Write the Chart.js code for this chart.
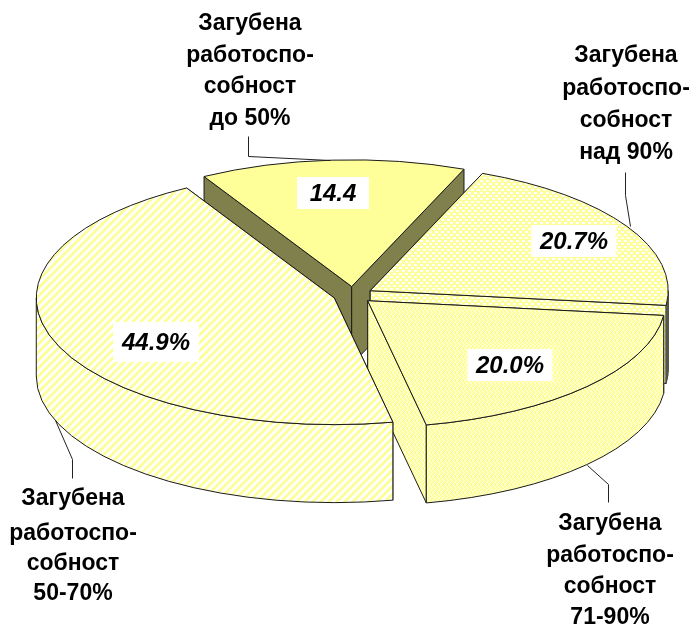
<!DOCTYPE html>
<html><head><meta charset="utf-8">
<style>html,body{margin:0;padding:0;background:#fff}#w{width:693px;height:627px}</style>
<script src="https://cdn.jsdelivr.net/npm/chart.js@4/dist/chart.umd.js"></script>
</head><body><div id="w"><canvas id="c" width="693" height="627"></canvas></div>
<script>
const categories = ['Загубена работоспо-собност до 50%','Загубена работоспо-собност над 90%','Загубена работоспо-собност 71-90%','Загубена работоспо-собност 50-70%'];
const values = [14.4, 20.7, 20.0, 44.9];
const valueLabels = ['14.4', '20.7%', '20.0%', '44.9%'];
const calloutLines = [
  ['Загубена','работоспо-','собност','до 50%'],
  ['Загубена','работоспо-','собност','над 90%'],
  ['Загубена','работоспо-','собност','71-90%'],
  ['Загубена','работоспо-','собност','50-70%']
];

const TILT = 0.425, DEPTH = 78, YEL = '#FFFF99', OLIVE = '#80804D', LINE = '#1a1a1a';
const FONT = '"Liberation Sans", Arial, sans-serif';

function pattern(size, isWhite) {
  const cv = document.createElement('canvas');
  cv.width = cv.height = size;
  const g = cv.getContext('2d');
  g.fillStyle = YEL; g.fillRect(0, 0, size, size);
  g.fillStyle = '#fff';
  for (let y = 0; y < size; y++) for (let x = 0; x < size; x++) if (isWhite(x, y)) g.fillRect(x, y, 1, 1);
  return g.createPattern(cv, 'repeat');
}
const hatch = pattern(8, (x, y) => (x + y) % 8 < 4);
const dots = pattern(6, (x, y) => (x % 6 < 3 && y % 6 < 2) || ((x + 3) % 6 < 3 && (y + 3) % 6 < 2));
const fine = pattern(8, (x, y) => ((y % 8 < 4 ? x + y : x - y + 16) % 4) === 0);

class Arc3DElement extends Chart.ArcElement {
  static id = 'arc3d';
  draw(ctx) {
    const { x, y, startAngle: a0, endAngle: a1, outerRadius: r, options: o } = this;
    const mid = (a0 + a1) / 2, e = o.offset || 0;
    const cx = x + Math.cos(mid) * e, cy = y + Math.sin(mid) * e * TILT;
    const px = a => cx + Math.cos(a) * r, py = a => cy + Math.sin(a) * r * TILT;
    const wall = o.borderColor === OLIVE ? OLIVE : o.backgroundColor;
    ctx.save();
    ctx.lineWidth = 1; ctx.lineJoin = 'round'; ctx.strokeStyle = LINE;
    const shape = (fill, build) => { ctx.beginPath(); build(); ctx.closePath(); ctx.fillStyle = fill; ctx.fill(); ctx.stroke(); };
    for (const a of [a0, a1]) shape(wall, () => {
      ctx.moveTo(cx, cy); ctx.lineTo(px(a), py(a)); ctx.lineTo(px(a), py(a) + DEPTH); ctx.lineTo(cx, cy + DEPTH);
    });
    const TAU = Math.PI * 2;
    let w0 = Infinity, w1 = -Infinity;
    for (let k = -1; k <= 1; k++) {
      const lo = Math.max(a0, k * TAU), hi = Math.min(a1, k * TAU + Math.PI);
      if (hi > lo) { w0 = Math.min(w0, lo); w1 = Math.max(w1, hi); }
    }
    if (w1 > w0) {
      shape(wall, () => {
        ctx.ellipse(cx, cy, r, r * TILT, 0, w0, w1);
        ctx.ellipse(cx, cy + DEPTH, r, r * TILT, 0, w1, w0, true);
      });
      if (w1 - w0 < 0.2) {
        for (let a = w0; a < w1; a += 0.028) {
          ctx.strokeStyle = '#55554a';
          ctx.beginPath(); ctx.moveTo(px(a), py(a)); ctx.lineTo(px(a), py(a) + DEPTH); ctx.stroke();
        }
        ctx.strokeStyle = LINE;
      }
    }
    shape(o.backgroundColor, () => {
      ctx.moveTo(cx, cy); ctx.ellipse(cx, cy, r, r * TILT, 0, a0, a1);
    });
    ctx.restore();
  }
}
class Pie3DController extends Chart.PieController {
  static id = 'pie3d';
  static defaults = { dataElementType: 'arc3d' };
}
Chart.register(Arc3DElement, Pie3DController);

const valueBoxes = [
  { cx: 333, cy: 193, w: 72, h: 32 },
  { cx: 574, cy: 241, w: 85, h: 32 },
  { cx: 510, cy: 365, w: 85, h: 32 },
  { cx: 156, cy: 342, w: 86, h: 40 }
];
const callouts = [
  { cx: 250, ys: [24, 56, 87, 119] },
  { cx: 626, ys: [56, 89, 121, 153] },
  { cx: 610, ys: [524, 556, 587, 618] },
  { cx: 73,  ys: [499, 534, 564, 594] }
];
const leaders = [
  [[248,136],[248,156],[330,160]],
  [[625,172],[625,195],[630,226]],
  [[608,502],[608,484],[587,465]],
  [[72,478],[72,459],[55,420]]
];

const textPlugin = {
  id: 'pieText',
  afterDatasetsDraw(chart) {
    const ctx = chart.ctx;
    ctx.save();
    ctx.textAlign = 'center'; ctx.textBaseline = 'middle';
    ctx.strokeStyle = '#222'; ctx.lineWidth = 1;
    for (const l of leaders) {
      ctx.beginPath();
      l.forEach((p, i) => i ? ctx.lineTo(p[0] + .5, p[1] + .5) : ctx.moveTo(p[0] + .5, p[1] + .5));
      ctx.stroke();
    }
    valueLabels.forEach((t, i) => {
      const b = valueBoxes[i];
      ctx.fillStyle = '#fff';
      ctx.fillRect(b.cx - b.w / 2, b.cy - b.h / 2, b.w, b.h);
      ctx.fillStyle = '#000';
      ctx.font = 'italic bold 24px ' + FONT;
      ctx.fillText(t, b.cx, b.cy + 1);
    });
    ctx.font = 'bold 23px ' + FONT;
    ctx.fillStyle = '#000';
    calloutLines.forEach((lines, i) => {
      lines.forEach((t, j) => ctx.fillText(t, callouts[i].cx, callouts[i].ys[j]));
    });
    ctx.restore();
  }
};

new Chart(document.getElementById('c'), {
  type: 'pie3d',
  data: {
    labels: categories,
    datasets: [{
      data: values,
      backgroundColor: [YEL, dots, fine, hatch],
      borderColor: [OLIVE, LINE, LINE, LINE],
      borderWidth: 1,
      offset: 20
    }]
  },
  options: {
    responsive: false,
    animation: false,
    rotation: -29.7,
    radius: 298,
    layout: { padding: { left: 57, right: 44, top: 0, bottom: 37 } },
    plugins: { legend: { display: false }, tooltip: { enabled: false } }
  },
  plugins: [textPlugin]
});
</script></body></html>
